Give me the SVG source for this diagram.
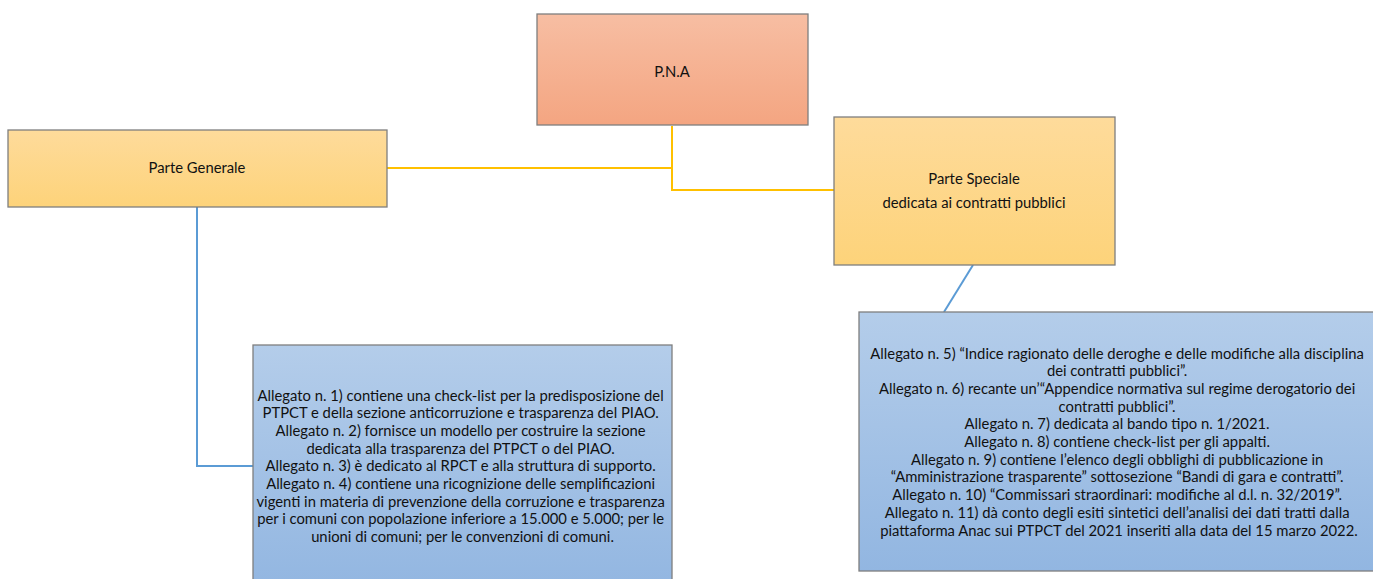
<svg xmlns="http://www.w3.org/2000/svg" width="1373" height="579" viewBox="0 0 1373 579">
<defs>
<linearGradient id="gOrange" x1="0" y1="0" x2="0" y2="1"><stop offset="0" stop-color="#F7BEA3"/><stop offset="1" stop-color="#F4A581"/></linearGradient>
<linearGradient id="gYellow" x1="0" y1="0" x2="0" y2="1"><stop offset="0" stop-color="#FEDB9B"/><stop offset="1" stop-color="#FDD37A"/></linearGradient>
<linearGradient id="gBlue" x1="0" y1="0" x2="0" y2="1"><stop offset="0" stop-color="#B4CDEA"/><stop offset="1" stop-color="#92B6E1"/></linearGradient>
<style>
.box{stroke:#7F7F7F;stroke-width:1.3}
.t{font-family:Lato,"Liberation Sans",sans-serif;font-size:14.8px;fill:#111;text-anchor:middle}
.cy{fill:none;stroke:#FFC000;stroke-width:2}
.cb{fill:none;stroke:#5B9BD5;stroke-width:2}
</style>
</defs>
<g id="connectors">
<polyline class="cy" points="387,168 672,168"/>
<polyline class="cy" points="672,126 672,190 834,190"/>
<polyline class="cb" points="197,207 197,466 253,466"/>
<polyline class="cb" points="973,265 944,312"/>
</g>
<g id="pna">
<rect class="box" x="537" y="14" width="271" height="111" fill="url(#gOrange)"/>
<text class="t" x="672" y="77">P.N.A</text>
</g>
<g id="parte-generale">
<rect class="box" x="8" y="130" width="379" height="77" fill="url(#gYellow)"/>
<text class="t" x="197" y="173">Parte Generale</text>
</g>
<g id="parte-speciale">
<rect class="box" x="834" y="117" width="281" height="148" fill="url(#gYellow)"/>
<text class="t" x="974" y="184">Parte Speciale</text>
<text class="t" x="974" y="208">dedicata ai contratti pubblici</text>
</g>
<g id="allegati-generale">
<rect class="box" x="253" y="345" width="419" height="245" fill="url(#gBlue)"/>
<text class="t">
<tspan x="462.5" y="400.5">Allegato n. 1) contiene una check-list per la predisposizione del</tspan>
<tspan x="462.5" y="418.2">PTPCT e della sezione anticorruzione e trasparenza del PIAO.</tspan>
<tspan x="462.5" y="435.9">Allegato n. 2) fornisce un modello per costruire la sezione</tspan>
<tspan x="462.5" y="453.6">dedicata alla trasparenza del PTPCT o del PIAO.</tspan>
<tspan x="462.5" y="471.3">Allegato n. 3) è dedicato al RPCT e alla struttura di supporto.</tspan>
<tspan x="462.5" y="489">Allegato n. 4) contiene una ricognizione delle semplificazioni</tspan>
<tspan x="462.5" y="506.7">vigenti in materia di prevenzione della corruzione e trasparenza</tspan>
<tspan x="462.5" y="524.4">per i comuni con popolazione inferiore a 15.000 e 5.000; per le</tspan>
<tspan x="462.5" y="542.1">unioni di comuni; per le convenzioni di comuni.</tspan>
</text>
</g>
<g id="allegati-speciale">
<rect class="box" x="859" y="312" width="530" height="259" fill="url(#gBlue)"/>
<text class="t">
<tspan x="1119" y="358.5">Allegato n. 5) “Indice ragionato delle deroghe e delle modifiche alla disciplina</tspan>
<tspan x="1119" y="376.2">dei contratti pubblici”.</tspan>
<tspan x="1119" y="393.9">Allegato n. 6) recante un’“Appendice normativa sul regime derogatorio dei</tspan>
<tspan x="1119" y="411.6">contratti pubblici”.</tspan>
<tspan x="1119" y="429.3">Allegato n. 7) dedicata al bando tipo n. 1/2021.</tspan>
<tspan x="1119" y="447">Allegato n. 8) contiene check-list per gli appalti.</tspan>
<tspan x="1119" y="464.7">Allegato n. 9) contiene l’elenco degli obblighi di pubblicazione in</tspan>
<tspan x="1119" y="482.4">“Amministrazione trasparente” sottosezione “Bandi di gara e contratti”.</tspan>
<tspan x="1119" y="500.1">Allegato n. 10) “Commissari straordinari: modifiche al d.l. n. 32/2019”.</tspan>
<tspan x="1119" y="517.8">Allegato n. 11) dà conto degli esiti sintetici dell’analisi dei dati tratti dalla</tspan>
<tspan x="1119" y="535.5">piattaforma Anac sui PTPCT del 2021 inseriti alla data del 15 marzo 2022.</tspan>
</text>
</g>
</svg>
